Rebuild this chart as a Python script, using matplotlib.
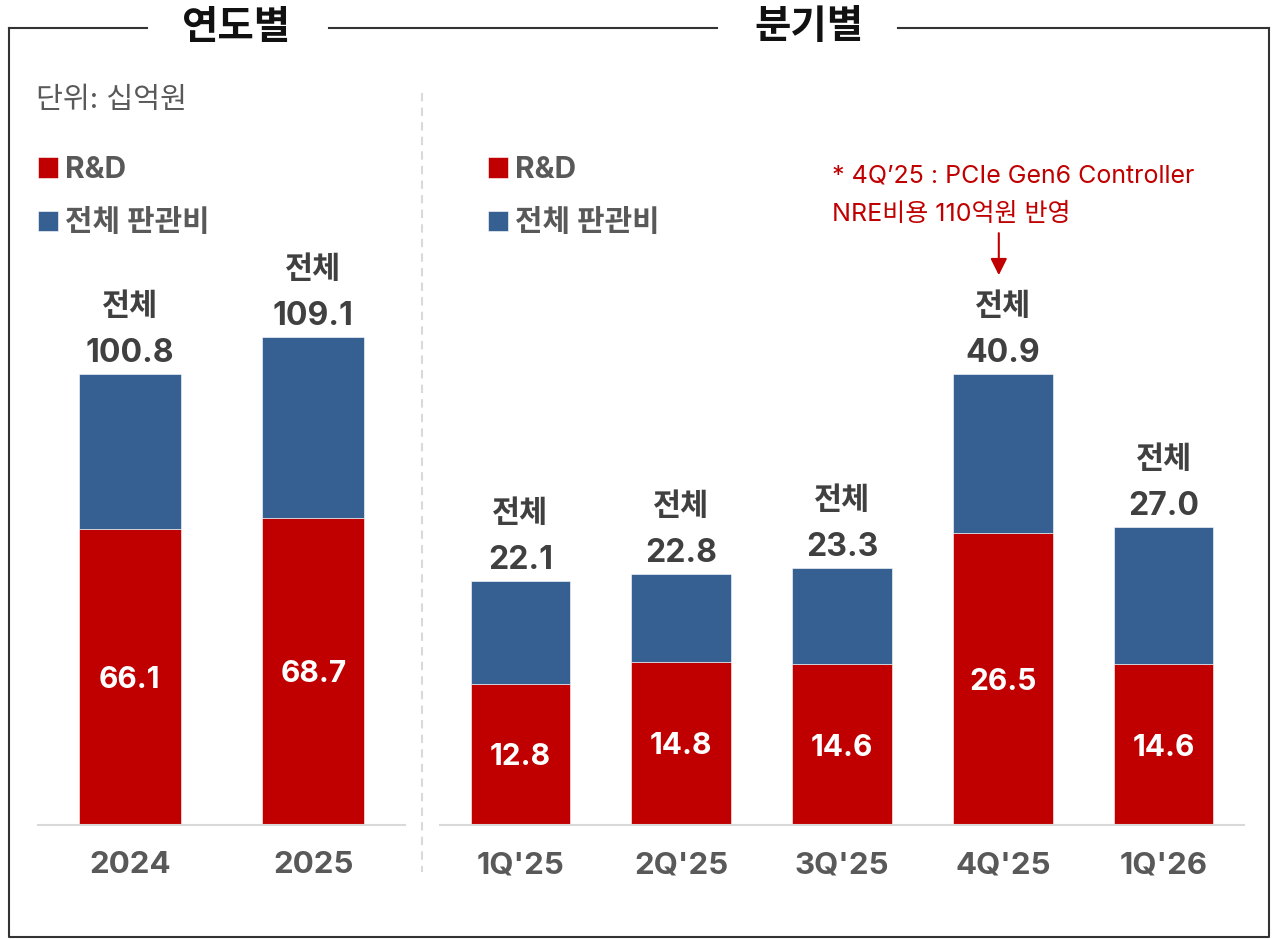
import matplotlib.pyplot as plt
import matplotlib.transforms as mtransforms
from matplotlib.lines import Line2D

plt.rcParams['font.family'] = ['Inter', 'Noto Sans CJK KR', 'DejaVu Sans']

# 연도별 데이터 (단위: 십억원)
years = ['2024', '2025']
year_total = [100.8, 109.1]
year_rd = [66.1, 68.7]

# 분기별 데이터
quarters = ["1Q'25", "2Q'25", "3Q'25", "4Q'25", "1Q'26"]
q_total = [22.1, 22.8, 23.3, 40.9, 27.0]
q_rd = [12.8, 14.8, 14.6, 26.5, 14.6]

legend_labels = ['R&D', '전체 판관비']
note = '* 4Q’25 : PCIe Gen6 Controller\nNRE비용 110억원 반영'
note_idx = 3

RED = '#C00000'
BLUE = '#366092'
GREY = '#595959'
DARK = '#404040'
LINE = '#D9D9D9'

W, H = 1272, 939
fig = plt.figure(figsize=(W / 100, H / 100), dpi=100)


def box(x0, y0, x1, y1):
    # pixel (top-left origin) -> figure fraction
    return [x0 / W, 1 - y1 / H, (x1 - x0) / W, (y1 - y0) / H]


def fx(x):
    return x / W


def fy(y):
    return 1 - y / H


def pt(px):
    return px * 0.72


def draw_panel(ax, cats, total, rd, width, ytop, legend_x):
    x = range(len(cats))
    sga = [t - r for t, r in zip(total, rd)]
    b1 = ax.bar(x, rd, width, color=RED, edgecolor='white', linewidth=0.4)
    b2 = ax.bar(x, sga, width, bottom=rd, color=BLUE, edgecolor='white', linewidth=0.4)
    for i in x:
        ax.annotate(f'{rd[i]:.1f}', xy=(i, rd[i] / 2), xytext=(0, pt(-3)),
                    textcoords='offset points', ha='center', va='center',
                    color='white', fontsize=21.5, fontweight='bold')
        ax.annotate(f'{total[i]:.1f}', xy=(i, total[i]), xytext=(0, pt(12)),
                    textcoords='offset points', ha='center', va='baseline',
                    color=DARK, fontsize=23, fontweight='bold')
        ax.annotate('전체', xy=(i, total[i]), xytext=(0, pt(59)),
                    textcoords='offset points', ha='center', va='baseline',
                    color=DARK, fontsize=22, fontweight='bold')
    ax.set_xlim(-0.5, len(cats) - 0.5)
    ax.set_ylim(0, ytop)
    ax.set_xticks(list(x), cats, fontsize=22.5, fontweight='bold', color=GREY)
    ax.tick_params(axis='x', length=0, pad=19)
    ax.set_yticks([])
    for s in ['top', 'left', 'right']:
        ax.spines[s].set_visible(False)
    ax.spines['bottom'].set_color(LINE)
    ax.spines['bottom'].set_linewidth(1.5)
    ax.patch.set_visible(False)
    ax.legend([b1, b2], legend_labels, loc='upper left',
              bbox_to_anchor=(fx(legend_x), fy(156)), bbox_transform=fig.transFigure,
              frameon=False, borderpad=0, borderaxespad=0,
              handlelength=0.66, handleheight=0.66, handletextpad=0.26,
              labelspacing=0.85, labelcolor=GREY,
              prop={'size': 21.5, 'weight': 'bold'})
    return b1, b2


ax1 = fig.add_axes(box(38, 60, 405, 825))
draw_panel(ax1, years, year_total, year_rd, 0.554, 171.0, 38)

ax2 = fig.add_axes(box(440, 60, 1244, 825))
draw_panel(ax2, quarters, q_total, q_rd, 0.62, 69.4, 488)

# 4Q'25 주석 + 화살표
tip = mtransforms.offset_copy(ax2.transData, fig=fig, x=pt(-4), y=pt(99), units='points')
ax2.annotate('', xy=(note_idx, q_total[note_idx]), xycoords=tip,
             xytext=(0, pt(42)), textcoords='offset points',
             arrowprops=dict(arrowstyle='-|>', color=RED, lw=1.5,
                             mutation_scale=25, shrinkA=0, shrinkB=0))
fig.text(fx(832), fy(195), note, ha='left', va='center', color=RED,
         fontsize=18, linespacing=1.85)

fig.text(fx(36), fy(100), '단위: 십억원', ha='left', va='center', color=GREY, fontsize=21)

# 구분 점선
fig.add_artist(Line2D([fx(422), fx(422)], [fy(93), fy(872)], transform=fig.transFigure,
                      color=LINE, lw=1.5, linestyle=(0, (4, 3))))

# 외곽 테두리 + 제목
frame = dict(transform=fig.transFigure, color='#333333', lw=1.5)
fig.add_artist(Line2D([fx(9), fx(9), fx(1269), fx(1269)],
                      [fy(28), fy(937), fy(937), fy(28)], **frame))
fig.add_artist(Line2D([fx(9), fx(147)], [fy(28), fy(28)], **frame))
fig.add_artist(Line2D([fx(329), fx(717)], [fy(28), fy(28)], **frame))
fig.add_artist(Line2D([fx(898), fx(1269)], [fy(28), fy(28)], **frame))
fig.text(fx(237), fy(28), '연도별', ha='center', va='center', fontsize=28.5,
         fontweight='bold', color='#111111')
fig.text(fx(809), fy(28), '분기별', ha='center', va='center', fontsize=28.5,
         fontweight='bold', color='#111111')

fig.savefig('out.png', dpi=100)
